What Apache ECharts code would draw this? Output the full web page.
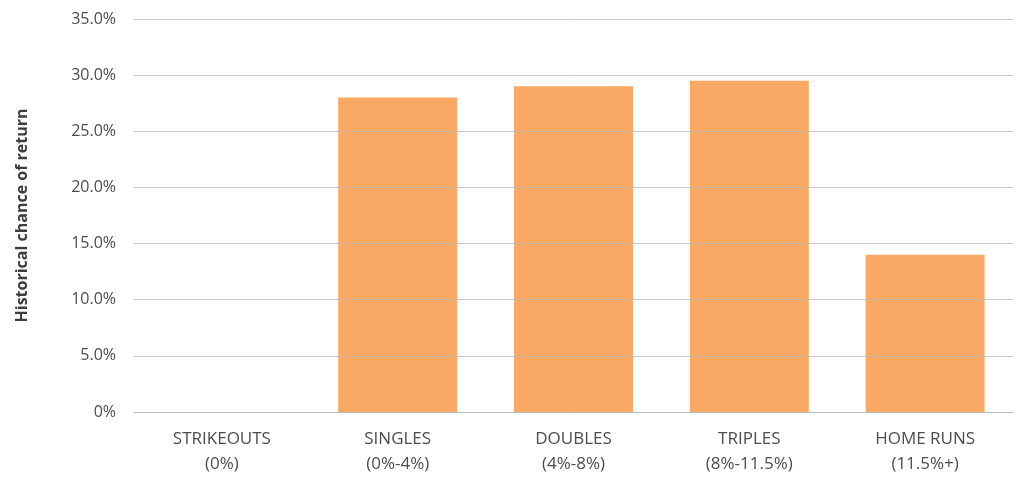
<!DOCTYPE html>
<html>
<head>
<meta charset="utf-8">
<script src="https://cdn.jsdelivr.net/npm/echarts@6/dist/echarts.min.js"></script>
<style>
  html, body { margin: 0; padding: 0; background: #fff; }
  #chart { width: 1022px; height: 477px; }
</style>
</head>
<body>
<div id="chart"></div>
<script>
var categories = ['STRIKEOUTS\n(0%)', 'SINGLES\n(0%-4%)', 'DOUBLES\n(4%-8%)', 'TRIPLES\n(8%-11.5%)', 'HOME RUNS\n(11.5%+)'];
var chanceOfReturn = [0, 28.0, 29.0, 29.5, 14.0];
var yTicks = { min: 0, max: 35, step: 5 };

var textColor = '#4d4d4d';
var fontName = '"Open Sans", Lato, sans-serif';

var option = {
  animation: false,
  grid: { left: 134, right: 9, top: 19, bottom: 63 },
  xAxis: {
    type: 'category',
    data: categories,
    axisLine: { show: true, lineStyle: { color: '#c4c4c4', width: 1 } },
    axisTick: { show: false },
    axisLabel: {
      color: textColor, fontFamily: fontName, fontSize: 17,
      lineHeight: 25, margin: 15, interval: 0
    }
  },
  yAxis: {
    type: 'value',
    min: yTicks.min, max: yTicks.max, interval: yTicks.step,
    z: 3,
    name: 'Historical chance of return',
    nameLocation: 'middle',
    nameGap: 104,
    nameTextStyle: { color: '#3d3d3d', fontFamily: fontName, fontSize: 16, fontWeight: 'bold' },
    axisLine: { show: false },
    axisTick: { show: false },
    axisLabel: {
      color: textColor, fontFamily: fontName, fontSize: 16, margin: 18,
      formatter: function (v) { return v === 0 ? '0%' : v.toFixed(1) + '%'; }
    },
    splitLine: { lineStyle: { color: '#b8b8b8', width: 1, opacity: 0.75 } }
  },
  series: [{
    type: 'bar',
    data: chanceOfReturn,
    barWidth: 119,
    itemStyle: { color: '#f9a963' }
  }]
};

var myChart = echarts.init(document.getElementById('chart'));
myChart.setOption(option);
</script>
</body>
</html>
